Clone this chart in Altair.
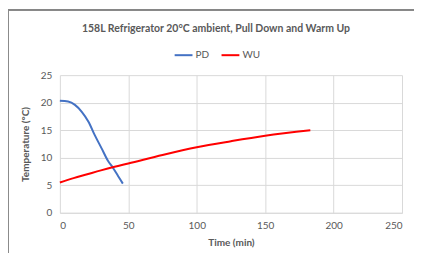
import altair as alt
import pandas as pd

pd_time = [0, 6, 11, 16, 21, 25.5, 30.5, 35, 39, 42.5, 46]
pd_temp = [20.35, 20.2, 19.6, 18.35, 16.5, 14.1, 11.7, 9.5, 8.1, 6.7, 5.3]
wu_time = [0, 10, 20, 30, 40, 50, 75, 100, 125, 150, 183]
wu_temp = [5.5, 6.3, 7.0, 7.7, 8.35, 8.95, 10.5, 11.9, 13.0, 14.0, 15.0]

rows = [{"t": t, "T": v, "s": "PD"} for t, v in zip(pd_time, pd_temp)]
rows += [{"t": t, "T": v, "s": "WU"} for t, v in zip(wu_time, wu_temp)]
df = pd.DataFrame(rows)

FONT = "Lato"
GRAY = "#595959"

lines = alt.Chart(df).mark_line(strokeWidth=2, interpolate="monotone").encode(
    x=alt.X("t:Q", title="Time (min)", scale=alt.Scale(domain=[0, 250], nice=False),
            axis=alt.Axis(values=[0, 50, 100, 150, 200, 250], grid=True, ticks=False,
                          labelPadding=8, titlePadding=7)),
    y=alt.Y("T:Q", title="Temperature (°C)", scale=alt.Scale(domain=[0, 25], nice=False),
            axis=alt.Axis(values=[0, 5, 10, 15, 20, 25], grid=True, ticks=False, domain=False,
                          labelPadding=8, titlePadding=10)),
    color=alt.Color("s:N", scale=alt.Scale(domain=["PD", "WU"], range=["#4472C4", "#FF0000"]),
                    legend=alt.Legend(title=None, orient="none", direction="horizontal",
                                      legendX=114, legendY=-30, symbolType="stroke",
                                      symbolSize=320, symbolStrokeWidth=2, columnPadding=8,
                                      labelOffset=2)),
)

frame_left = alt.Chart(df).mark_rule(color="#8a8a8a", strokeWidth=1).encode(
    x=alt.value(-52), y=alt.value(-65), y2=alt.value(200))
frame_top = alt.Chart(df).mark_rule(color="#8a8a8a", strokeWidth=1).encode(
    x=alt.value(-52), x2=alt.value(380), y=alt.value(-65))

chart = alt.layer(frame_left, frame_top, lines).properties(
    width=343, height=138,
    autosize=alt.AutoSizeParams(type="none"),
    padding={"left": 52, "top": 67, "right": 12, "bottom": 40},
    title=alt.TitleParams("158L Refrigerator 20°C ambient, Pull Down and Warm Up",
                          fontSize=10.5, font=FONT, fontWeight="bold", color=GRAY,
                          anchor="middle", frame="group", offset=-25, dx=-15),
).configure_view(stroke=None).configure_axis(
    labelFont=FONT, titleFont=FONT, labelFontSize=10, titleFontSize=10,
    labelColor=GRAY, titleColor=GRAY, gridColor="#d9d9d9", domainColor="#d9d9d9",
    titleFontWeight="bold",
).configure_legend(labelFont=FONT, labelFontSize=10, labelColor=GRAY)

chart.save("out.html", embed_options={"renderer": "svg", "actions": False})
